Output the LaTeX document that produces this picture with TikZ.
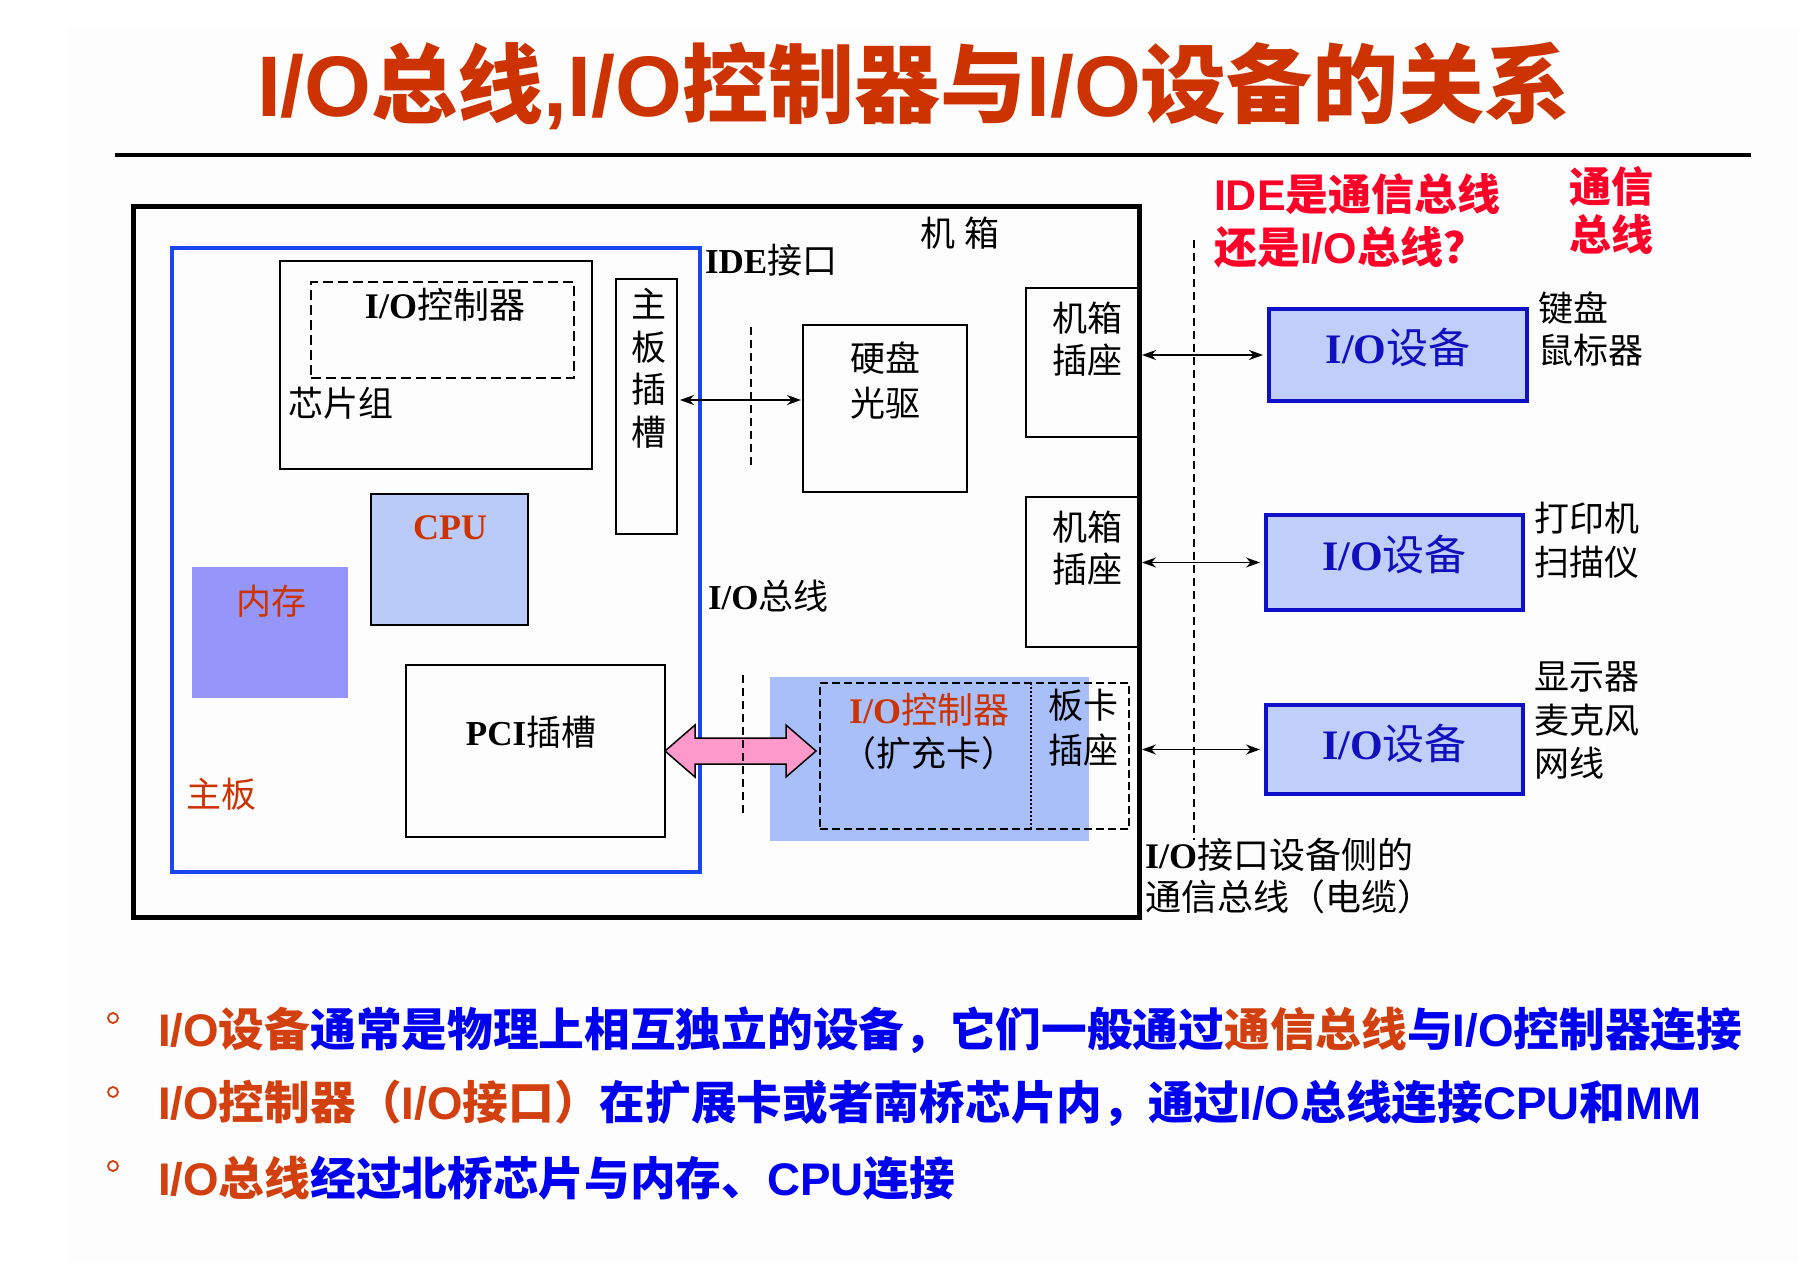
\documentclass[tikz,border=0pt]{standalone}
\usepackage{fontspec}
\setmainfont{Liberation Serif}
\newfontfamily\cjk{Noto Sans CJK SC}
\newfontfamily\arl{Liberation Sans}
\usetikzlibrary{arrows.meta,calc}
\definecolor{offwhite}{RGB}{253,253,253}
\definecolor{torange}{RGB}{204,51,0}
\definecolor{borange}{RGB}{210,64,16}
\definecolor{bblue}{RGB}{0,0,240}
\definecolor{ired}{RGB}{255,0,40}
\definecolor{mbblue}{RGB}{26,70,240}
\definecolor{cpufill}{RGB}{187,203,247}
\definecolor{memfill}{RGB}{150,150,250}
\definecolor{cardfill}{RGB}{169,191,249}
\definecolor{devfill}{RGB}{192,206,250}
\definecolor{devdraw}{RGB}{16,16,200}
\definecolor{devtext}{RGB}{16,16,190}
\definecolor{pinkf}{RGB}{255,153,204}
\newcommand\zh[1]{{\cjk #1}}
\newcommand\la[1]{{\arl #1}}
\newcommand\fsz[2]{\fontsize{#1}{#2}\selectfont}
\newcommand\bx[6]{\node[#2, minimum width={#5-#3}, minimum height={#6-#4}] (#1) at ({(#3+#5)/2},{(#4+#6)/2}) {};}
\begin{document}
\begin{tikzpicture}[x=1pt,y=-1pt,
  every node/.style={inner sep=0pt,outer sep=0pt},
  box/.style={rectangle,draw=black,line width=2pt},
  dev/.style={rectangle,draw=devdraw,fill=devfill,line width=4pt},
  lbl/.style={align=center},
  arr/.style={{Stealth[length=14pt,width=10pt]}-{Stealth[length=14pt,width=10pt]}, line width=1.8pt},
  dsh/.style={line width=1.6pt, dash pattern=on 8pt off 5pt}]
\useasboundingbox (0,0) rectangle (1798,1263);
\fill[white] (0,0) rectangle (1798,1263);
\fill[offwhite] (68,27) rectangle (1798,1263);
% title
\node[text=torange, font=\fsz{86}{86}\bfseries] (title) at (914,86)
  {\la{I/O}\zh{总线}\la{,I/O}\zh{控制器与}\la{I/O}\zh{设备的关系}};
\draw[line width=4pt] (115,155) -- (1751,155);
% fills
\bx{mem}{fill=memfill}{192}{567}{348}{698}
\bx{card}{fill=cardfill}{770}{677}{1089}{841}
% boxes
\bx{mainboard}{draw=mbblue,line width=3.5pt}{172}{248}{700}{872}
\bx{chipset}{box}{280}{261}{592}{469}
\bx{ioctl}{draw,line width=2pt,dash pattern=on 10pt off 5pt}{311}{282}{574}{378}
\bx{slot}{box}{616}{279}{677}{534}
\bx{cpu}{box,fill=cpufill}{371}{494}{528}{625}
\bx{pci}{box}{406}{665}{665}{837}
\bx{disk}{box}{803}{325}{967}{492}
\bx{sockA}{box}{1026}{288}{1139}{437}
\bx{sockB}{box}{1026}{497}{1139}{647}
\bx{cardbox}{draw,line width=2pt,dash pattern=on 8pt off 4pt}{820}{683}{1129}{829}
\draw[line width=2pt, dash pattern=on 2pt off 2pt] (1031,683) -- (1031,829);
\bx{chassis}{draw,line width=5pt}{133}{206}{1139}{917}
\bx{devA}{dev}{1269}{309}{1527}{401}
\bx{devB}{dev}{1266}{515}{1523}{610}
\bx{devC}{dev}{1266}{705}{1523}{794}
% labels in diagram
\node[font=\fsz{36}{42}] (ioctlT) at (445,305) {\textbf{I/O}\zh{控制器}};
\node[font=\cjk\fsz{35}{42}, anchor=west] (chipT) at (288,403) {芯片组};
\node[lbl, font=\cjk\fsz{35}{42.5}] (slotT) at (649,368.5) {主\\板\\插\\槽};
\node[font=\bfseries\fsz{36}{42}, text=torange] (cpuT) at (450,528) {CPU};
\node[font=\cjk\fsz{35}{42}, text=torange] (memT) at (271,601) {内存};
\node[font=\fsz{35}{42}] (pciT) at (531,732) {\textbf{PCI}\zh{插槽}};
\node[font=\cjk\fsz{35}{42}, text=torange] (mbT) at (221,794) {主板};
\node[font=\fsz{35}{42}, anchor=west] (ideT) at (705,260) {\textbf{IDE}\zh{接口}};
\node[font=\cjk\fsz{35}{42}] (caseT) at (960,233) {机\hspace{9pt}箱};
\node[lbl, font=\cjk\fsz{35}{45}] (diskT) at (885,380.5) {硬盘\\光驱};
\node[lbl, font=\cjk\fsz{35}{42}] (sockAT) at (1087,339) {机箱\\插座};
\node[lbl, font=\cjk\fsz{35}{42}] (sockBT) at (1087,548.5) {机箱\\插座};
\node[font=\fsz{35}{42}, anchor=west] (busT) at (708,596) {\textbf{I/O}\zh{总线}};
\node[font=\fsz{36}{42}, text=torange] (cardT1) at (929,710) {\textbf{I/O}\zh{控制器}};
\node[font=\cjk\fsz{35}{42}] (cardT2) at (929,753) {（扩充卡）};
\node[lbl, font=\cjk\fsz{35}{45}] (boardT) at (1083,727.5) {板卡\\插座};
% pink double arrow
\coordinate (pR) at ($(pci.east -| cardbox.west)+(-4,0)$);
\draw[fill=pinkf, line width=1.5pt, line join=miter] (pci.east) -- ++(30,-26) -- ++(0,13)
  -- ($(pR)+(-30,-13)$) -- ++(0,-13) -- (pR) -- ++(-30,26) -- ++(0,-13)
  -- ($(pci.east)+(30,13)$) -- ++(0,13) -- cycle;
% dashed separators
\draw[dsh] (751,327) -- (751,467);
\draw[dsh] (743,675) -- (743,817);
\draw[dsh] (1194,240) -- (1194,840);
% arrows
\coordinate (ideY) at (0,400);
\draw[arr, shorten <=3pt, shorten >=2pt] (slot.east |- ideY) -- (disk.west |- ideY);
\draw[arr, shorten <=3pt, shorten >=6pt] (chassis.east |- devA.west) -- (devA.west);
\draw[arr, shorten <=3pt, shorten >=6pt] (chassis.east |- devB.west) -- (devB.west);
\draw[arr, shorten <=3pt, shorten >=6pt] (chassis.east |- devC.west) -- (devC.west);
% right side texts
\node[align=left, anchor=west, text=ired, font=\bfseries\fsz{43}{53}] (q) at (1214,220.5)
  {\la{IDE}\zh{是通信总线}\\\zh{还是}\la{I/O}\zh{总线？}};
\node[lbl, text=ired, font=\cjk\bfseries\fsz{42}{48}] (comm) at (1611,210) {通信\\总线};
\node[font=\fsz{42}{42}, text=devtext] (devAT) at ($(devA)+(0,-7)$) {\textbf{I/O}\zh{设备}};
\node[font=\fsz{42}{42}, text=devtext] (devBT) at ($(devB)+(0,-8)$) {\textbf{I/O}\zh{设备}};
\node[font=\fsz{42}{42}, text=devtext] (devCT) at ($(devC)+(0,-6)$) {\textbf{I/O}\zh{设备}};
\node[align=left, anchor=west, font=\cjk\fsz{35}{42}] (kbT) at (1538,329) {键盘\\鼠标器};
\node[align=left, anchor=west, font=\cjk\fsz{35}{44}] (prT) at (1534,540) {打印机\\扫描仪};
\node[align=left, anchor=west, font=\cjk\fsz{35}{43.5}] (dispT) at (1534,720.5) {显示器\\麦克风\\网线};
\node[align=left, anchor=west, font=\fsz{36}{42}] (cableT) at (1145,876)
  {\textbf{I/O}\zh{接口设备侧的}\\\zh{通信总线（电缆）}};
% bullets
\foreach \yy/\n in {1018/1,1092/2,1166/3}
  \node[circle, draw=borange, line width=1.8pt, minimum size=10pt] (bul\n) at (113,\yy) {};
\node[anchor=west, text=bblue, font=\bfseries\fsz{45.7}{46}] (l1) at (158,1030)
  {\textcolor{borange}{\la{I/O}\zh{设备}}\zh{通常是物理上相互独立的设备，它们一般通过}\textcolor{borange}{\zh{通信总线}}\zh{与}\la{I/O}\zh{控制器连接}};
\node[anchor=west, text=bblue, font=\bfseries\fsz{45.7}{46}] (l2) at (158,1103)
  {\textcolor{borange}{\la{I/O}\zh{控制器（}\la{I/O}\zh{接口）}}\zh{在扩展卡或者南桥芯片内，通过}\la{I/O}\zh{总线连接}\la{CPU}\zh{和}\la{MM}};
\node[anchor=west, text=bblue, font=\bfseries\fsz{45.7}{46}] (l3) at (158,1178)
  {\textcolor{borange}{\la{I/O}\zh{总线}}\zh{经过北桥芯片与内存、}\la{CPU}\zh{连接}};
\end{tikzpicture}
\end{document}
